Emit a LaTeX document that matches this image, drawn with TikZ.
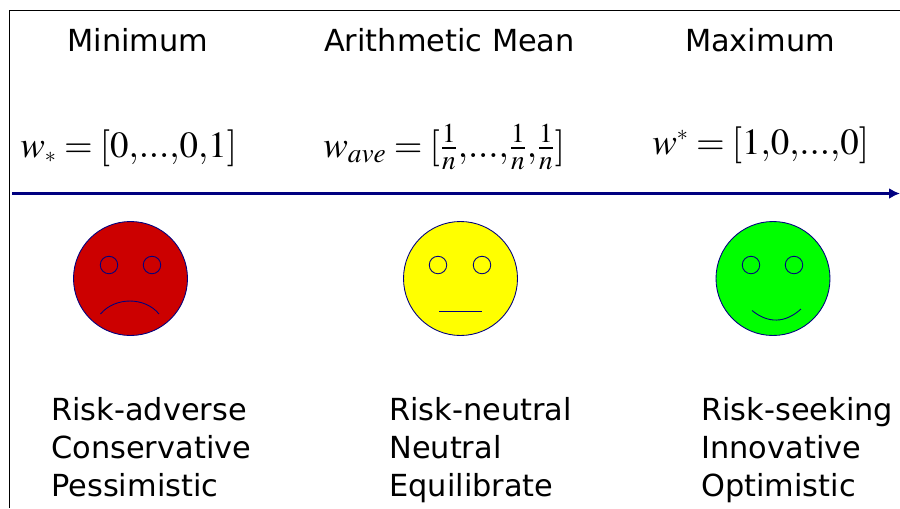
\documentclass[tikz,border=0pt]{standalone}
\usepackage{amsmath}
\usepackage{mathptmx}
\usepackage[no-math]{fontspec}
\setmainfont{DejaVu Sans}
\usepackage{tikz}
\usetikzlibrary{arrows.meta,positioning}
\definecolor{AXISnavy}{RGB}{0,0,128}
\definecolor{SADred}{RGB}{204,0,0}
\definecolor{MIDyellow}{RGB}{255,255,0}
\definecolor{HAPPYgreen}{RGB}{0,255,0}
\newcommand{\tightdots}{{.}{.}{.}}
\newcommand{\smallstar}{\scriptscriptstyle *}
\newcommand{\oneovern}{\tfrac{1}{n}}
\thickmuskip=3.5mu

\begin{document}
\begin{tikzpicture}[
    x=0.02cm, y=-0.02cm,
    heading/.style={font=\fontsize{17.3}{21}\selectfont, anchor=base, inner sep=0pt},
    formula/.style={font=\fontsize{21}{26}\selectfont, anchor=base west, inner sep=0pt},
    face/.style={circle, draw=AXISnavy, line width=0.5pt, minimum size=2.28cm, inner sep=0pt},
    eye/.style={circle, draw=AXISnavy, line width=0.5pt, minimum size=0.35cm, inner sep=0pt},
    mouth/.style={draw=AXISnavy, line width=0.5pt},
    traits/.style={font=\fontsize{17.3}{21.6}\selectfont, align=left, anchor=base west, inner sep=0pt},
    arrow/.style={-{Latex[length=0.22cm,width=0.22cm]}, AXISnavy, line width=1.4pt}
]
    \useasboundingbox (0,0) rectangle (900,508);
    \coordinate (framebottom) at (9.5,508);
    \coordinate (framecorner) at (9.5,10.5);
    \coordinate (frameright) at (900,10.5);
    \draw[line width=0.6pt] (framebottom) -- (framecorner) -- (frameright);

    \node[heading] (minhead) at (138,51) {Minimum};
    \node[heading] (meanhead) at (449.5,51) {Arithmetic Mean};
    \node[heading] (maxhead) at (760,51) {Maximum};

    \node[formula] (minformula) at (20,157) {$w_{\smallstar}=[0{,}\tightdots{,}0{,}1]$};
    \node[formula] (meanformula) at (323,157) {$w_{\mathit{ave}}=[\oneovern{,}\tightdots{,}\oneovern{,}\oneovern]$};
    \node[formula] (maxformula) at (652,154) {$w^{\smallstar}=[1{,}0{,}\tightdots{,}0]$};

    \coordinate (axisstart) at (12,193.5);
    \coordinate (axisend) at (900,193.5);
    \draw[arrow] (axisstart) -- (axisend);

    % Faces
    \node[face, fill=SADred] (sad) at (130.5,278.5) {};
    \node[eye] (sadleft) at (109,265) {};
    \node[eye] (sadright) at (152,265) {};
    \draw[mouth] (100.5,314) .. controls (115,296.7) and (145,296.7) .. (159,314);

    \node[face, fill=MIDyellow] (neutral) at (460.5,278.5) {};
    \node[eye] (neutralleft) at (438,265) {};
    \node[eye] (neutralright) at (482,265) {};
    \draw[mouth] (439,311) -- (482,311);

    \node[face, fill=HAPPYgreen] (happy) at (773,278.5) {};
    \node[eye] (happyleft) at (751,265) {};
    \node[eye] (happyright) at (794,265) {};
    \draw[mouth] (752,310.5) .. controls (768,323.5) and (785,323.5) .. (801,309);

    \node[traits] (sadtraits) at (51,496) {Risk-adverse\\Conservative\\Pessimistic};
    \node[traits] (neutraltraits) at (389,496) {Risk-neutral\\Neutral\\Equilibrate};
    \node[traits] (happytraits) at (701,496) {Risk-seeking\\Innovative\\Optimistic};
\end{tikzpicture}
\end{document}
